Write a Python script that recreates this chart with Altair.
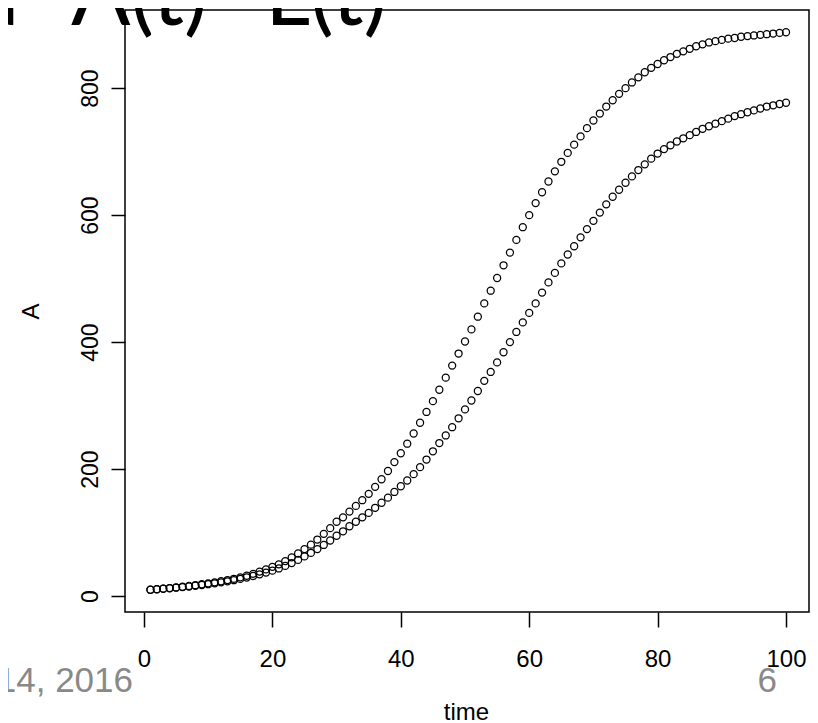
import altair as alt
import pandas as pd

# ---------------- data ----------------
time = list(range(1, 101))

A_values = [
    10, 10.8, 11.7, 12.6, 13.6, 14.7, 15.9, 17.2, 18.6, 20,
    21.6, 23.3, 25.2, 27.2, 29.5, 32, 35, 38.5, 42, 46,
    50, 55, 61, 67, 74, 81, 89, 98, 107, 117,
    124, 133, 142, 151, 161, 172, 184, 197, 211, 225,
    240, 256, 273, 290, 307, 325, 344, 363, 382, 401,
    420, 440, 461, 481, 501, 521, 541, 561, 581, 600,
    619, 636, 653, 669, 684, 698, 711, 724, 737, 749,
    760, 771, 781, 791, 800, 809, 817, 825, 832, 838,
    844, 849, 854, 858, 862, 866, 869, 872, 874, 876,
    878, 879, 881, 882, 883, 884, 885, 886, 887, 888,
]

L_values = [
    10, 10.7, 11.5, 12.3, 13.2, 14.1, 15.1, 16.2, 17.4, 18.7,
    20.1, 21.6, 23.2, 25, 27, 29.2, 31.6, 34.2, 37, 40,
    43.5, 47.5, 52, 57, 62.5, 68, 74, 80.5, 87.5, 95,
    102, 110, 117, 124, 131, 139, 147, 155, 164, 173,
    182, 192, 203, 215, 228, 241, 253, 266, 280, 294,
    308, 323, 339, 353, 368, 384, 400, 416, 431, 446,
    461, 478, 494, 509, 524, 538, 551, 565, 578, 591,
    604, 617, 629, 640, 651, 661, 671, 680, 689, 697,
    704, 710, 716, 721, 726, 731, 736, 740, 744, 748,
    752, 756, 759, 762, 765, 768, 771, 773, 775, 777,
]

x_ticks = [0, 20, 40, 60, 80, 100]
y_ticks = [0, 200, 400, 600, 800]

slide_title_parts = ["a", "A(t)", "L(t)"]
footer_date = "14, 2016"
footer_page = "6"

# ---------------- chart ----------------
df = pd.DataFrame({
    "time": time + time,
    "A": A_values + L_values,
    "series": ["A"] * len(A_values) + ["L"] * len(L_values),
})

x_scale = alt.Scale(domain=[-2.96, 103.58], nice=False, zero=False)
y_scale = alt.Scale(domain=[-25.1, 923.1], nice=False, zero=False)

points = alt.Chart(df).mark_point(
    shape="circle", filled=False, color="black", size=50,
    strokeWidth=1.25, opacity=1
).encode(
    x=alt.X("time:Q", scale=x_scale, axis=alt.Axis(
        values=x_ticks, grid=False, domain=False, tickSize=15, tickWidth=1.5,
        tickColor="black", labelFont="Liberation Sans", labelFontSize=24,
        labelColor="black", labelPadding=39, labelBaseline="alphabetic",
        labelFlush=False, labelOverlap=False,
        title="time", titleFont="Liberation Sans", titleFontSize=24,
        titleFontWeight="normal", titleColor="black", titleY=107,
        titleX=341, titleBaseline="alphabetic")),
    y=alt.Y("A:Q", scale=y_scale, axis=alt.Axis(
        values=y_ticks, grid=False, domain=False, tickSize=14, tickWidth=1.5,
        tickColor="black", labelFont="Liberation Sans", labelFontSize=23,
        labelColor="black", labelAngle=270, labelAlign="center",
        labelBaseline="alphabetic", labelPadding=14, labelFlush=False,
        labelOverlap=False,
        title="A", titleFont="Liberation Sans", titleFontSize=24,
        titleFontWeight="normal", titleColor="black", titleAngle=270,
        titleAlign="center", titleBaseline="middle", titleX=-94)),
    detail="series:N",
)

def text_layer(txt, x, y, size, font, color, align):
    return alt.Chart(pd.DataFrame({"t": [txt]})).mark_text(
        font=font, fontSize=size, color=color, align=align,
        baseline="alphabetic", clip=False
    ).encode(text="t:N", x=alt.value(x), y=alt.value(y))

title_a = text_layer(slide_title_parts[0], -106, 15, 88, "Lato", "black", "right")
title_A = text_layer(slide_title_parts[1], -54, 15, 88, "Lato", "black", "left")
title_L = text_layer(slide_title_parts[2], 140, 15, 88, "Lato", "black", "left")
date_txt = text_layer(footer_date, 8, 682, 35, "Liberation Sans", "#898989", "right")
page_txt = text_layer(footer_page, 652, 682, 35, "Liberation Sans", "#898989", "right")

chart = alt.layer(points, title_a, title_A, title_L, date_txt, page_txt).properties(
    width=684, height=602,
    padding={"left": 117, "top": 2, "right": 1, "bottom": 113},
    autosize=alt.AutoSizeParams(type="none"),
    background="white",
).configure_view(stroke="black", strokeWidth=1.5)

chart.save("out.html", embed_options={"renderer": "svg", "actions": False})
